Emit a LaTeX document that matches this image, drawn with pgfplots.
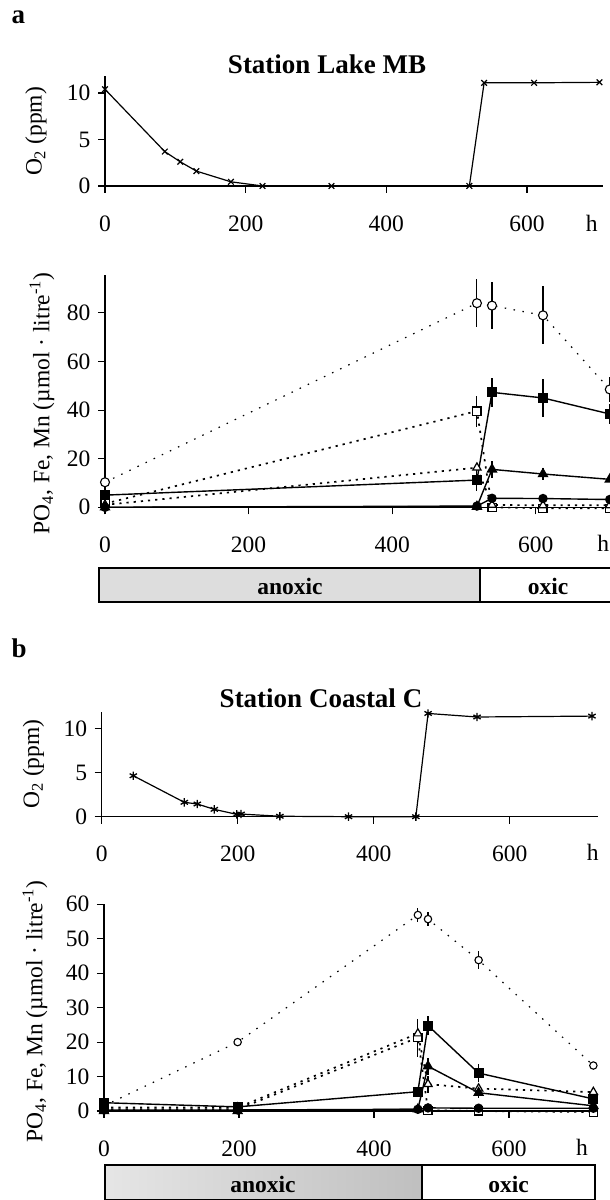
\documentclass[border=0pt]{standalone}
\usepackage{pgfplots}
\pgfplotsset{compat=1.18}
\usepackage{fontspec}
\setmainfont{Liberation Serif}
\newcommand\tk{\fontsize{23.5}{28}\selectfont}
\newcommand\ttl{\fontsize{27}{32}\selectfont\bfseries}
\pgfplotsset{
  base/.style={
    scale only axis, anchor=south west,
    axis x line=bottom, axis y line=left,
    axis line style={-, line width=1.1pt, black},
    every tick/.style={black, line width=1.1pt},
    tick align=outside, major tick length=7pt,
    xmin=0, ymin=0, clip=false,
    /pgf/number format/assume math mode=true,
    tick label style={font=\tk},
    xticklabel style={anchor=center, yshift=-31pt},
    yticklabel style={xshift=-4pt},
    xtick={0,200,400,600},
  },
  ebar/.style={error bars/y dir=both, error bars/y explicit, error bars/error mark=none,
    error bars/error bar style={solid, line width=1.1pt, black}},
  ocirc/.style={black, line width=1.2pt, dash pattern=on 1.5pt off 7.5pt, mark=*, mark size=4.5pt,
    mark options={solid, fill=white, line width=1.1pt}, ebar},
  osq/.style={black, line width=1.7pt, dash pattern=on 2.2pt off 5pt, mark=square*, mark size=4.1pt,
    mark options={solid, fill=white, line width=1.2pt}, ebar},
  otri/.style={black, line width=1.7pt, dash pattern=on 2.2pt off 5pt, mark=triangle*, mark size=4.8pt,
    mark options={solid, fill=white, line width=1.2pt}, ebar},
  fsq/.style={black, line width=1.4pt, solid, mark=square*, mark size=4.3pt, mark options={solid}, ebar},
  ftri/.style={black, line width=1.4pt, solid, mark=triangle*, mark size=5pt, mark options={solid}, ebar},
  fcirc/.style={black, line width=1.4pt, solid, mark=*, mark size=4pt, mark options={solid}, ebar},
}
\begin{document}
\begin{tikzpicture}[x=1pt,y=1pt]
\useasboundingbox (0,0) rectangle (610,1200);
\clip (0,0) rectangle (610,1200);
\fill[white] (0,0) rectangle (610,1200);

% ---------------- panel a ----------------
\node[anchor=base west, font=\ttl] at (8,1176) {a};
\node[font=\ttl] at (327,1136) {Station Lake MB};

\begin{axis}[base, at={(105pt,1014pt)}, width=498pt, height=109.7pt,
  xmax=708, ymax=11.8, ytick={0,5,10}]
\addplot[black, line width=1.2pt, mark=x, mark size=4pt, mark options={line width=1.2pt}]
 coordinates {(0,10.4) (85,3.7) (107,2.6) (130,1.6) (179,0.45) (224,0) (322,0) (518,0) (539,11.1) (610,11.1) (703,11.15)};
\node[font=\tk] at (axis cs:692,0) [yshift=-37pt] {h};
\end{axis}
\node[rotate=90, font=\tk] at (36,1068.5) {O\textsubscript{2} (ppm)};

\begin{axis}[base, at={(105pt,692.7pt)}, width=509.8pt, height=232.3pt,
  xmax=710, ymax=95.6, ytick={0,20,40,60,80}]
\addplot[ocirc] table[x=x,y=y,y error=e] {
x y e
0 10.3 0
518 84 10
539 83 9.6
610 79 12
703 48.5 5
};
\addplot[osq] table[x=x,y=y,y error=e] {
x y e
0 1.5 0
518 39.6 6.4
539 0 0
610 -0.4 0
703 -0.4 0
};
\addplot[otri] table[x=x,y=y,y error=e] {
x y e
0 1 0
518 16.3 2
539 1 0
610 0.8 0
703 0.8 0
};
\addplot[fsq] table[x=x,y=y,y error=e] {
x y e
0 5 0
518 11.2 4.6
539 47.3 6
610 45 7.7
703 38.4 4
};
\addplot[ftri] table[x=x,y=y,y error=e] {
x y e
0 0 0
518 0.3 0
539 15.6 3.5
610 13.7 2.5
703 11.5 0
};
\addplot[fcirc] table[x=x,y=y,y error=e] {
x y e
0 0 2
518 0.5 0
539 3.7 1
610 3.6 1
703 3.2 0
};
\node[font=\tk] at (axis cs:694,0) [yshift=-36pt] {h};
\end{axis}
\node[rotate=90, font=\tk] at (42,796.5) {PO\textsubscript{4}, Fe, Mn (µmol · litre\textsuperscript{-1})};

% anoxic / oxic bar a
\fill[gray!27] (99,598) rectangle (480,632);
\draw[line width=1.6pt] (99,598) rectangle (616,632);
\draw[line width=1.6pt] (480,598) -- (480,632);
\node[anchor=base, font=\bfseries\tk] at (290,605) {anoxic};
\node[anchor=base, font=\bfseries\tk] at (548,605) {oxic};

% ---------------- panel b ----------------
\node[anchor=base west, font=\ttl] at (8,542) {b};
\node[font=\ttl] at (321,502) {Station Coastal C};

\begin{axis}[base, at={(101.7pt,383.3pt)}, width=496.4pt, height=105pt,
  xmax=730, ymax=11.9, ytick={0,5,10},
  xticklabel style={yshift=1pt}]
\addplot[black, line width=1.2pt, mark=asterisk, mark size=4.2pt, mark options={line width=1.3pt}]
 coordinates {(46.5,4.64) (121.5,1.63) (140.6,1.44) (165.6,0.83) (198.5,0.27) (204.9,0.3) (262,0.05) (363,0) (462,0) (480,11.7) (552,11.3) (721,11.4)};
\node[font=\tk] at (axis cs:722,0) [yshift=-36pt] {h};
\end{axis}
\node[rotate=90, font=\tk] at (33.5,436) {O\textsubscript{2} (ppm)};

\begin{axis}[base, at={(104pt,89pt)}, width=492.75pt, height=206.7pt,
  xmax=730, ymax=60, ytick={0,10,20,30,40,50,60}]
\addplot[ocirc, mark size=3.7pt] table[x=x,y=y,y error=e] {
x y e
0 1.5 0
198 20 0
465 56.9 2
480 55.7 2
555 43.8 2.5
725 13.2 0
};
\addplot[osq] table[x=x,y=y,y error=e] {
x y e
0 0.5 0
198 0.5 0
465 21.3 5.5
480 0.2 0
555 0 0
725 -0.3 0
};
\addplot[otri] table[x=x,y=y,y error=e] {
x y e
0 1 0
198 1 0
465 22.5 0
480 7.8 2.5
555 6.5 0
725 5.5 0
};
\addplot[fsq] table[x=x,y=y,y error=e] {
x y e
0 2.4 1.5
198 1.2 0
465 5.6 1
480 24.8 2.8
555 11 2.5
725 3.5 0
};
\addplot[ftri] table[x=x,y=y,y error=e] {
x y e
0 0 0
198 0 0
465 0.5 0
480 13 2.5
555 5.3 1.5
725 1.5 0
};
\addplot[fcirc] table[x=x,y=y,y error=e] {
x y e
0 0.3 1.5
198 0.3 0
465 0.5 0
480 0.9 0
555 0.8 0
725 0.8 0
};
\node[font=\tk] at (axis cs:708,0) [yshift=-36pt] {h};
\end{axis}
\node[rotate=90, font=\tk] at (35,188.5) {PO\textsubscript{4}, Fe, Mn (µmol · litre\textsuperscript{-1})};

% anoxic / oxic bar b
\shade[left color=gray!20, right color=gray!50] (105,0.5) rectangle (421.7,35);
\draw[line width=1.6pt] (105,0.5) rectangle (595,35);
\draw[line width=1.6pt] (421.7,0.5) -- (421.7,35);
\node[anchor=base, font=\bfseries\tk] at (263,7) {anoxic};
\node[anchor=base, font=\bfseries\tk] at (508.5,7) {oxic};
\end{tikzpicture}
\end{document}
